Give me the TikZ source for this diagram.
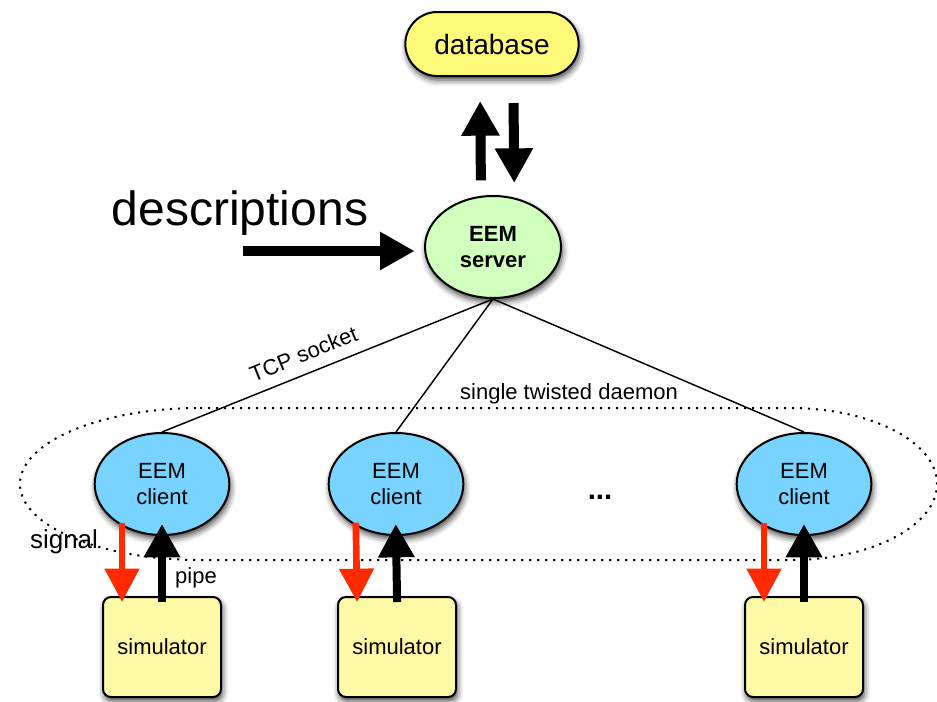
\documentclass[tikz,border=0pt]{standalone}
\usepackage{fontspec}
\setmainfont{Liberation Sans}
\usetikzlibrary{arrows.meta,shapes.geometric,shadows.blur}

\definecolor{dbfill}{RGB}{255,250,122}
\definecolor{srvfill}{RGB}{208,255,190}
\definecolor{clfill}{RGB}{120,212,255}
\definecolor{simfill}{RGB}{255,250,168}
\definecolor{sigred}{RGB}{255,42,0}

\begin{document}
\begin{tikzpicture}[x=0.75pt,y=-0.75pt,
  nodeshadow/.style={blur shadow={shadow xshift=1pt,shadow yshift=-3pt,shadow blur radius=4.5pt,shadow opacity=75}},
  dbbox/.style={rectangle,rounded corners=24pt,draw,line width=1.5pt,fill=dbfill,
    minimum width=130pt,minimum height=48pt,inner sep=0pt,
    font=\fontsize{21}{25}\selectfont,nodeshadow},
  server/.style={ellipse,draw,line width=1.5pt,fill=srvfill,
    minimum width=102pt,minimum height=76.5pt,inner sep=0pt,align=center,
    font=\bfseries\fontsize{16.5}{19}\selectfont,nodeshadow},
  client/.style={ellipse,draw,line width=1.5pt,fill=clfill,
    minimum width=101pt,minimum height=76.5pt,inner sep=0pt,align=center,
    font=\fontsize{16.5}{20}\selectfont,nodeshadow},
  simbox/.style={rectangle,rounded corners=6pt,draw,line width=1.5pt,fill=simfill,
    minimum width=88.5pt,minimum height=75pt,inner sep=0pt,
    font=\fontsize{16.5}{20}\selectfont,nodeshadow},
  bigarrow/.style={line width=7.5pt,-{Triangle[width=27pt,length=26pt]}},
  pipearrow/.style={line width=6pt,-{Triangle[width=26pt,length=25pt]}},
  sigarrow/.style={draw=sigred,line width=5pt,-{Triangle[width=25pt,length=25pt]}},
  link/.style={line width=1.1pt},
  lbl/.style={font=\fontsize{16.5}{20}\selectfont},
  daemon/.style={line width=1.5pt,dash pattern=on 1.6pt off 4.4pt}
]
\useasboundingbox (0,0) rectangle (937,701);

% boundary of the single twisted daemon
\draw[daemon] (200,408) -- (790,408)
  arc[start angle=-90,end angle=90,x radius=147,y radius=76]
  -- (200,560)
  arc[start angle=90,end angle=270,x radius=180,y radius=76] -- cycle;
\node[lbl] (daemonlbl) at (569,394) {single twisted daemon};

% main nodes
\node[dbbox] (db) at (492,44) {database};
\node[server] (srv) at (493,247) {EEM\\server};

\node[client] (c1) at (162,484) {EEM\\client};
\node[client] (c2) at (396,484) {EEM\\client};
\node[client] (c3) at (804,484) {EEM\\client};

\node[simbox] (s1) at (162,647) {simulator};
\node[simbox] (s2) at (397,647) {simulator};
\node[simbox] (s3) at (804,647) {simulator};

\node[font=\bfseries\fontsize{22}{24}\selectfont] (dots) at (600,497) {...};

% TCP socket links
\draw[link] (c1.north) -- node[sloped,above=5pt,pos=0.45,lbl] (tcp) {TCP socket} (srv.south);
\draw[link] (c2.north) -- (srv.south);
\draw[link] (c3.north) -- (srv.south);

% database traffic
\draw[bigarrow,shorten <=11pt,shorten >=18pt] ([xshift=-9pt]srv.north) -- ([xshift=-9pt]db.south);
\draw[bigarrow,shorten <=19.5pt,shorten >=9pt] ([xshift=16pt]db.south) -- ([xshift=16pt]srv.north);

% descriptions input
\node[font=\fontsize{36}{40}\selectfont] (desc) at (240,213) {descriptions};
\coordinate (dstart) at (243,251);
\draw[bigarrow,shorten >=7pt] (dstart) -- (dstart -| srv.west);

% signals and pipes between clients and simulators
\foreach \c/\s in {c1/s1,c2/s2,c3/s3}{
  \draw[sigarrow,shorten <=-10pt,shorten >=-4.5pt] ([xshift=-30pt]\c.south) -- ([xshift=-30pt]\s.north);
  \draw[pipearrow,shorten <=-4.5pt,shorten >=-9pt] (\s.north) -- (\c.south);
}

\node[font=\fontsize{19.5}{22}\selectfont] (signal) at (64,542) {signal};
\node[lbl] (pipe) at (196,578) {pipe};
\end{tikzpicture}
\end{document}
